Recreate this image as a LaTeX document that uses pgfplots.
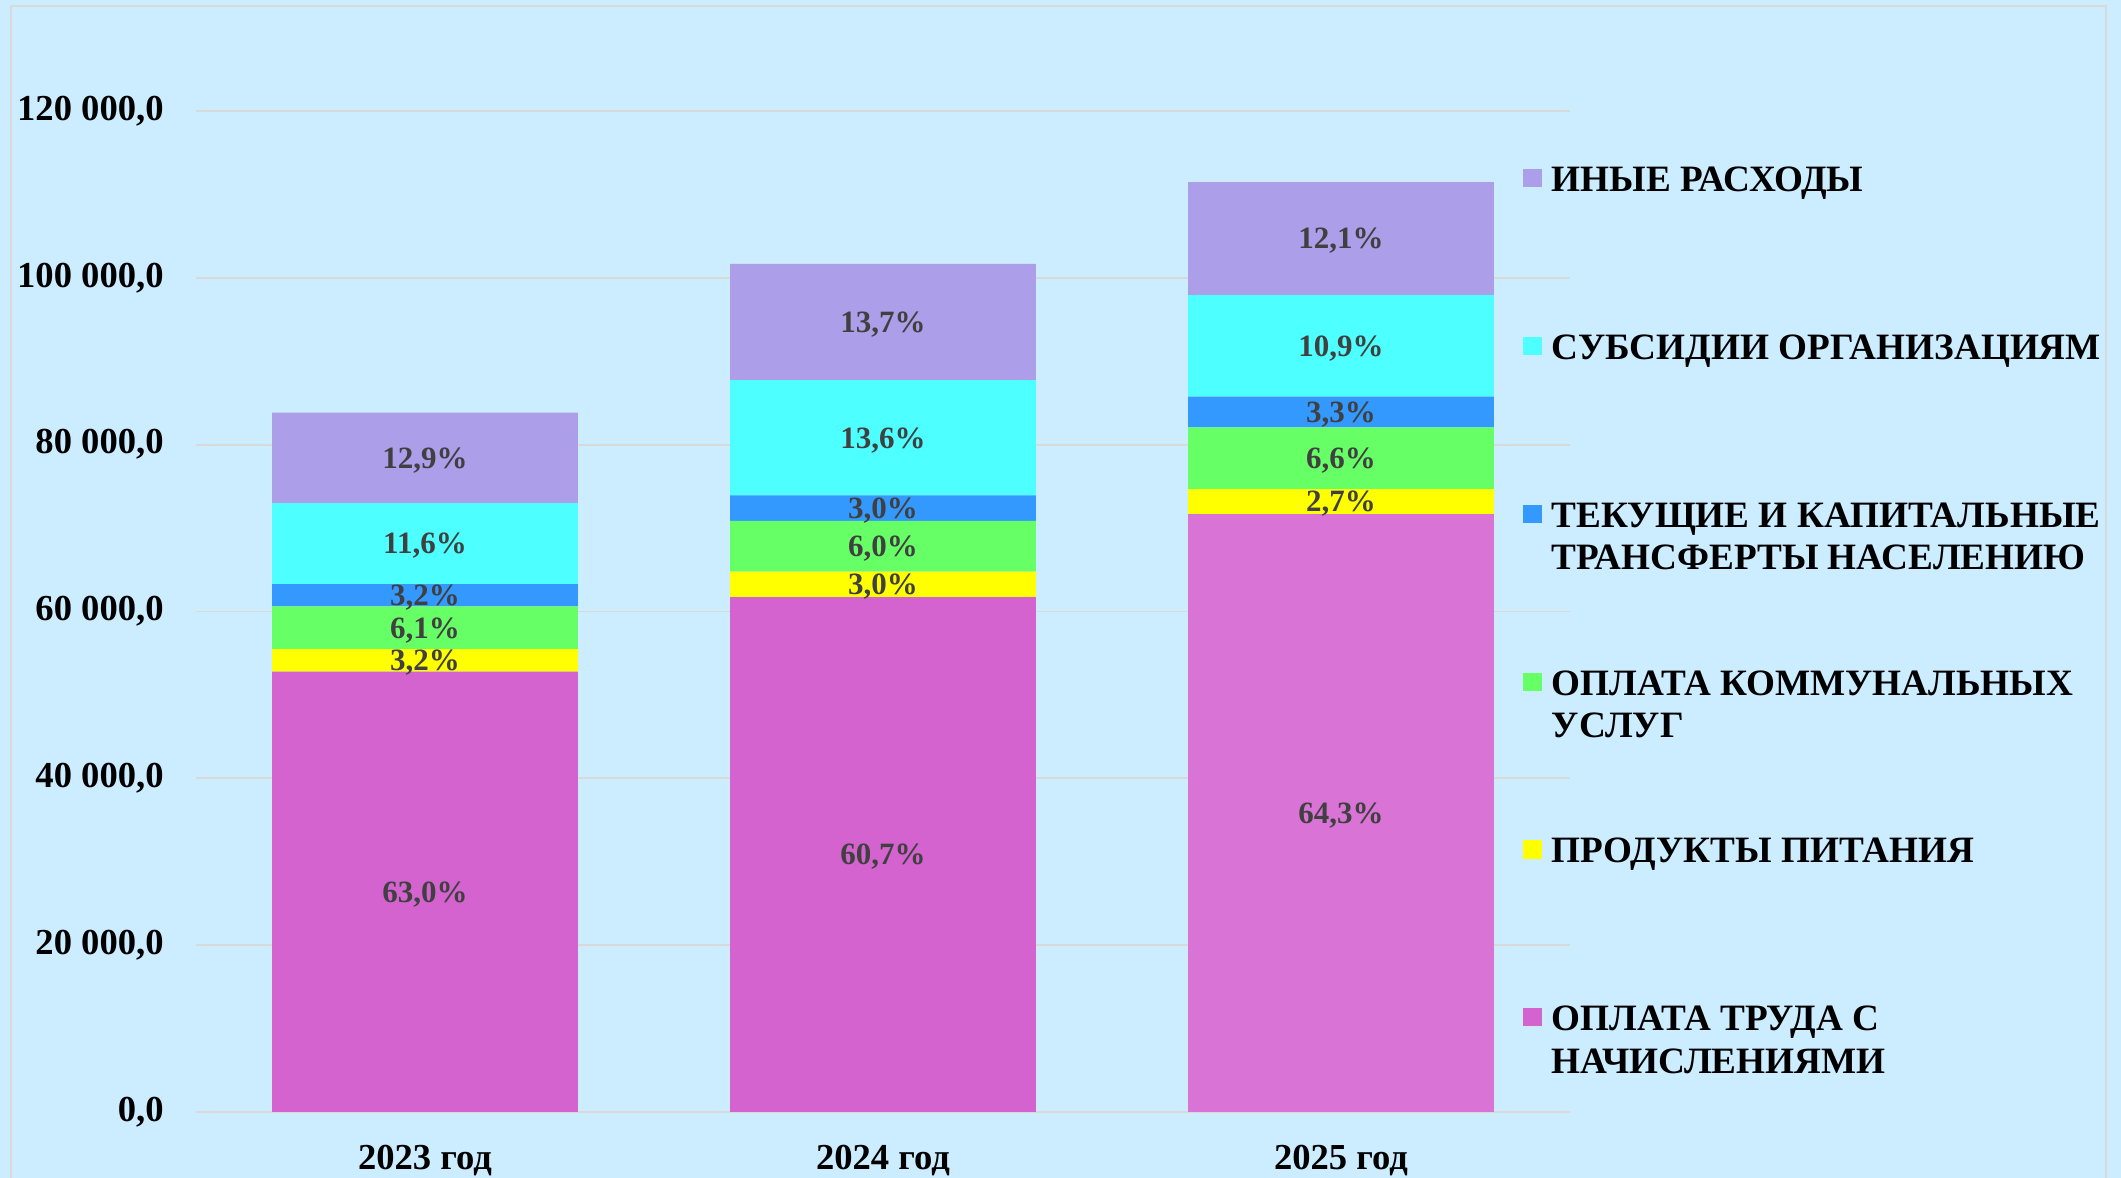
\documentclass[border=0pt]{standalone}
\usepackage{fontspec}
\setmainfont{Liberation Serif}
\usepackage{pgfplots}
\usepackage{pgfplotstable}
\pgfplotsset{compat=1.18}

\definecolor{bgc}{RGB}{204,236,255}
\definecolor{brd}{RGB}{217,217,217}
\definecolor{cpink}{RGB}{212,99,208}
\definecolor{cpinkb}{RGB}{217,115,214}
\definecolor{cyel}{RGB}{255,255,0}
\definecolor{cgrn}{RGB}{102,255,102}
\definecolor{cblu}{RGB}{51,153,255}
\definecolor{ccya}{RGB}{77,255,255}
\definecolor{cpur}{RGB}{172,158,232}
\definecolor{labc}{RGB}{64,64,64}

\pgfplotstableread{
x pink food comm transf subs other
0 52781 2721 5119 2673 9710 10825
1 61719 3050 6101 3050 13828 13930
2 71685 2997 7397 3669 12190 13546
}\bars

\pgfplotstableread{
x y lab
0 26390.5 63,0\%
0 54141.5 3,2\%
0 58061.5 6,1\%
0 61957.5 3,2\%
0 68149 11,6\%
0 78416.5 12,9\%
1 30859.5 60,7\%
1 63244 3,0\%
1 67819.5 6,0\%
1 72395 3,0\%
1 80834 13,6\%
1 94713 13,7\%
2 35842.5 64,3\%
2 73183.5 2,7\%
2 78380.5 6,6\%
2 83913.5 3,3\%
2 91843 10,9\%
2 104711 12,1\%
}\labels

\newcommand{\two}[2]{\begin{tabular}[t]{@{}l@{}}#1\\#2\end{tabular}}

\begin{document}
\begin{tikzpicture}
\useasboundingbox (0pt,0pt) rectangle (1060.5pt,589pt);
\fill[bgc] (0pt,0pt) rectangle (1060.5pt,589pt);
\draw[brd, line width=0.9pt] (5.5pt,0pt) -- (5.5pt,586pt) -- (1053pt,586pt) -- (1053pt,0pt);
\begin{axis}[
  at={(98pt,33pt)}, anchor=south west,
  scale only axis, width=687pt, height=500.5pt,
  ybar stacked, bar width=152.85pt,
  xmin=-0.5, xmax=2.5, ymin=0, ymax=120000,
  enlargelimits=false,
  xtick={0,1,2}, xticklabels={2023 год,2024 год,2025 год},
  ytick={0,20000,...,120000},
  scaled y ticks=false,
  ymajorgrids, major grid style={draw=brd, line width=0.9pt},
  axis line style={draw=none}, major tick length=0pt, tick style={draw=none},
  yticklabel style={font=\bfseries\fontsize{18.3}{21}\selectfont, inner sep=0pt, xshift=-16pt},
  xticklabel style={font=\bfseries\fontsize{18.3}{21}\selectfont, inner sep=0pt, yshift=-16.5pt},
  /pgf/number format/assume math mode=true,
  /pgf/number format/fixed,
  /pgf/number format/fixed zerofill,
  /pgf/number format/precision=1,
  /pgf/number format/use comma,
  /pgf/number format/1000 sep={\ },
  legend style={at={(0.9658,0.9499)}, anchor=north west, draw=none, fill=none,
    font=\bfseries\fontsize{18.6}{21.35}\selectfont,
    inner sep=0pt, row sep=67.5pt, column sep=4.75pt,
    cells={anchor=base west}, nodes={inner sep=0pt}},
  reverse legend,
  every axis plot post/.append style={draw=none,
    legend image code/.code={\fill[##1] (0pt,2.2pt) rectangle (9.5pt,11.3pt);}},
]
\addplot[fill=cpink] table[x=x,y=pink] \bars;
\addlegendentry{\two{ОПЛАТА ТРУДА С}{НАЧИСЛЕНИЯМИ}}
\addplot[fill=cyel] table[x=x,y=food] \bars;
\addlegendentry{\two{ПРОДУКТЫ ПИТАНИЯ}{\mbox{}}}
\addplot[fill=cgrn] table[x=x,y=comm] \bars;
\addlegendentry{\two{ОПЛАТА КОММУНАЛЬНЫХ}{УСЛУГ}}
\addplot[fill=cblu] table[x=x,y=transf] \bars;
\addlegendentry{\two{ТЕКУЩИЕ И КАПИТАЛЬНЫЕ}{ТРАНСФЕРТЫ НАСЕЛЕНИЮ}}
\addplot[fill=ccya] table[x=x,y=subs] \bars;
\addlegendentry{\two{СУБСИДИИ ОРГАНИЗАЦИЯМ}{\mbox{}}}
\addplot[fill=cpur] table[x=x,y=other] \bars;
\addlegendentry{\two{ИНЫЕ РАСХОДЫ}{\mbox{}}}
\end{axis}
\begin{axis}[
  at={(98pt,33pt)}, anchor=south west,
  scale only axis, width=687pt, height=500.5pt,
  xmin=-0.5, xmax=2.5, ymin=0, ymax=120000,
  hide axis, clip=false]
\addplot[ybar, bar width=152.85pt, bar shift=0pt, fill=cpinkb, draw=none] coordinates {(2,71685)};
\addplot[draw=none, mark=none, nodes near coords, point meta=explicit symbolic,
  every node near coord/.append style={font=\bfseries\fontsize{15.5}{18}\selectfont, text=labc, anchor=base, yshift=-5.2pt, inner sep=0pt}]
  table[x=x, y=y, meta=lab] \labels;
\end{axis}
\end{tikzpicture}
\end{document}
